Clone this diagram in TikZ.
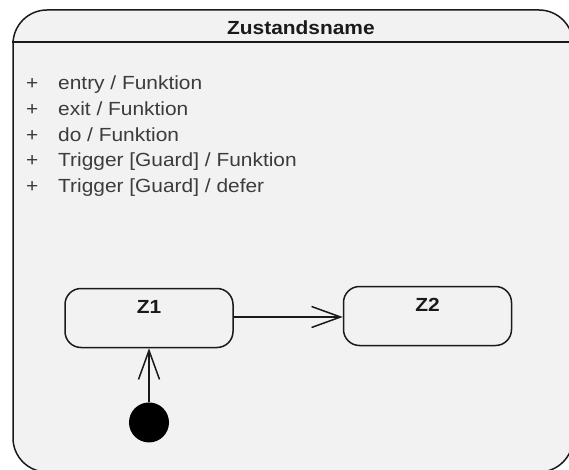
\documentclass[tikz,border=0pt]{standalone}
\usepackage{fontspec}
\setmainfont[FakeStretch=1.1]{Liberation Sans}
\usetikzlibrary{arrows.meta,positioning}

\definecolor{stategray}{HTML}{F2F2F2}
\definecolor{linegray}{HTML}{1A1A1A}
\definecolor{textgray}{HTML}{3C3C3C}

\begin{document}
\begin{tikzpicture}[x=1pt, y=-1pt, >={Straight Barb[length=29pt,width=21pt]},
    every node/.style={font=\fontsize{19}{23}\selectfont, text=textgray},
    state/.style={draw=linegray, fill=stategray, line width=1.5pt, rectangle, rounded corners=16pt,
        minimum width=168pt, inner xsep=0pt, inner ysep=0pt, text height=24.6pt, text depth=34.4pt,
        font=\fontsize{19}{23}\selectfont\bfseries, text=linegray},
    entrybox/.style={anchor=base west, inner sep=0pt},
    trans/.style={->, draw=linegray, line width=1.5pt}]
    \useasboundingbox (0,0) rectangle (569,470);
    \clip (0,0) rectangle (569,470);
    \fill[white] (0,0) rectangle (569,470);

    % composite state
    \node [draw=linegray, fill=stategray, line width=1.5pt, rectangle, rounded corners=34pt,
        minimum width=560pt, minimum height=462pt, inner sep=0pt] (zustand) at (293,241) {};
    \draw [linegray, line width=1.5pt] ([yshift=-33pt]zustand.north west) -- ([yshift=-33pt]zustand.north east);
    \node [anchor=base west, inner sep=0pt, font=\fontsize{19}{23}\selectfont\bfseries, text=linegray] (titel) at (227,35) {Zustandsname};

    % internal activities
    \node [entrybox] (plusa) at (26,90) {+};
    \node [entrybox] (entry) at (58,90) {entry / Funktion};
    \node [entrybox] (plusb) at (26,116) {+};
    \node [entrybox] (exit) at (58,116) {exit / Funktion};
    \node [entrybox] (plusc) at (26,141.5) {+};
    \node [entrybox] (do) at (58,141.5) {do / Funktion};
    \node [entrybox] (plusd) at (26,167) {+};
    \node [entrybox] (trigger) at (58,167) {Trigger [Guard] / Funktion};
    \node [entrybox] (pluse) at (26,193) {+};
    \node [entrybox] (defer) at (58,193) {Trigger [Guard] / defer};

    % substates
    \node [state] (z1) at (149,318) {Z1};
    \node [state, right=109pt of z1, yshift=2pt] (z2) {Z2};
    \node [circle, fill=black, minimum size=40pt, inner sep=0pt, below=54pt of z1] (init) {};

    \draw [trans] (z1.east |- 0,317) -- (z2.west |- 0,317);
    \draw [trans] (init) -- (z1);
\end{tikzpicture}
\end{document}
